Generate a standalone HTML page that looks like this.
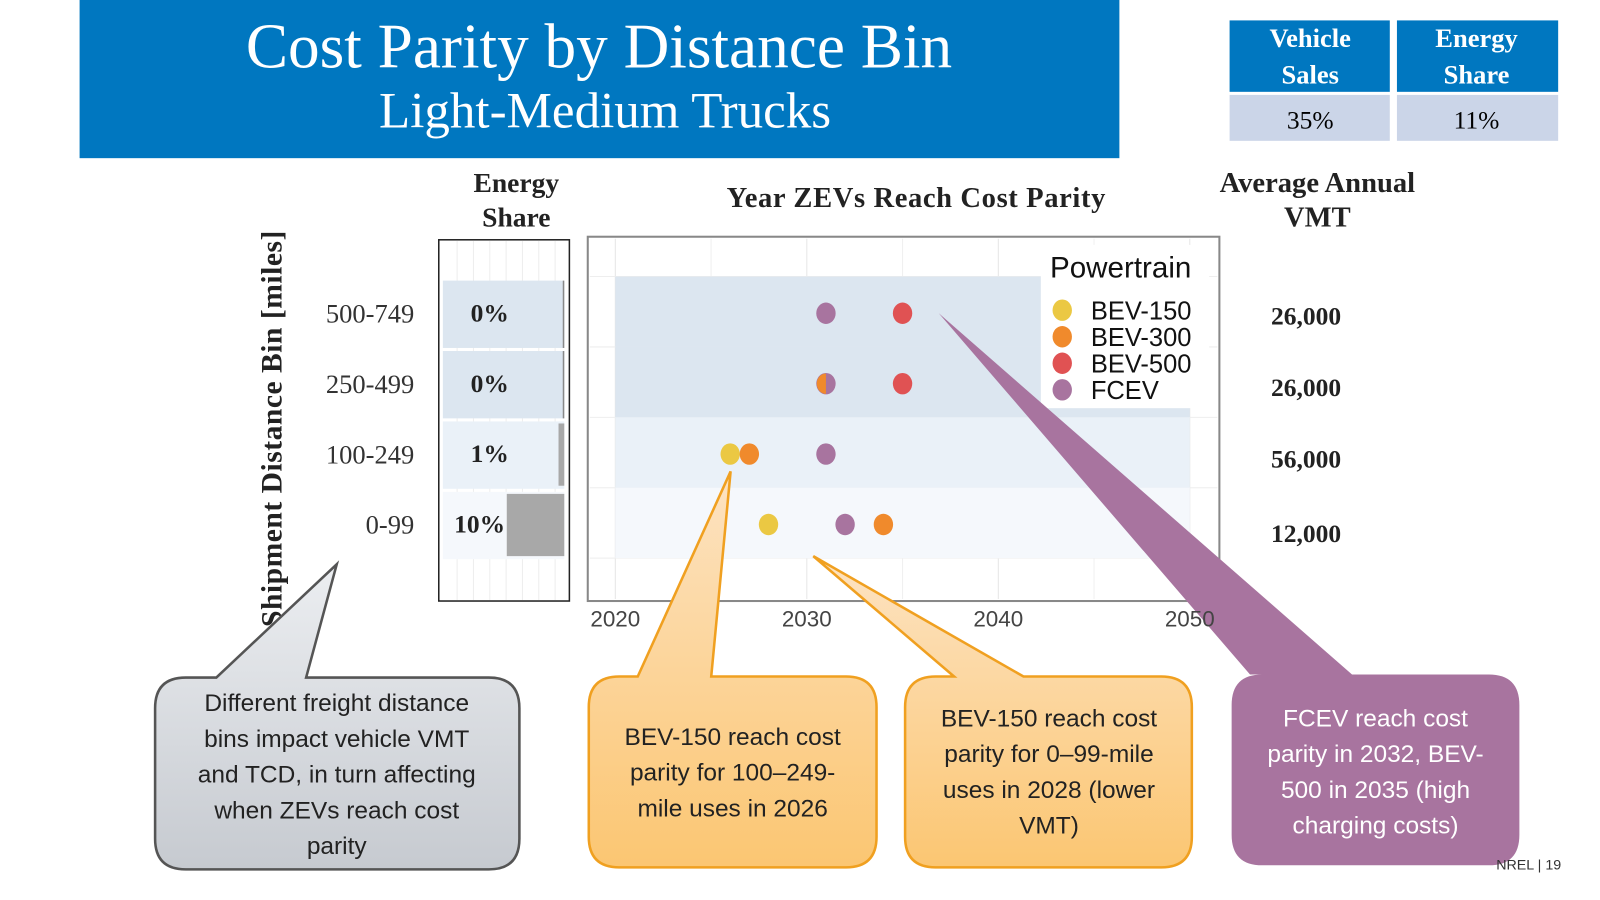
<!DOCTYPE html>
<html><head><meta charset="utf-8"><style>
html,body{margin:0;padding:0;background:#fff;overflow:hidden}
svg{display:block}
.serif{font-family:"Liberation Serif",serif}
.sans{font-family:"Liberation Sans",sans-serif}
</style></head><body>
<svg id="root" width="1600" height="900" viewBox="0 0 1568 882" xmlns="http://www.w3.org/2000/svg">
<defs>
<linearGradient id="gGray" x1="0" y1="0" x2="0" y2="1"><stop offset="0" stop-color="#eceef1"/><stop offset="1" stop-color="#c6cad0"/></linearGradient>
<linearGradient id="gOr" x1="0" y1="0" x2="0" y2="1"><stop offset="0" stop-color="#fde3c2"/><stop offset="1" stop-color="#fbc672"/></linearGradient>
</defs>
<g>
<rect x="78" y="0" width="1019" height="155" fill="#0077c0"/>
<text class="serif" x="587" y="66" font-size="62" fill="#fff" text-anchor="middle">Cost Parity by Distance Bin</text>
<text class="serif" x="593" y="125" font-size="50" fill="#fff" text-anchor="middle">Light-Medium Trucks</text>
</g>
<g>
<rect x="1205" y="20" width="157" height="70" fill="#0077c0"/>
<rect x="1369" y="20" width="158" height="70" fill="#0077c0"/>
<rect x="1205" y="93" width="157" height="45" fill="#cbd5e8"/>
<rect x="1369" y="93" width="158" height="45" fill="#cbd5e8"/>
<text class="serif" font-size="26" fill="#fff" text-anchor="middle" font-weight="bold"><tspan x="1284" y="46">Vehicle</tspan><tspan x="1284" y="82">Sales</tspan></text>
<text class="serif" font-size="26" fill="#fff" text-anchor="middle" font-weight="bold"><tspan x="1447" y="46">Energy</tspan><tspan x="1447" y="82">Share</tspan></text>
<text class="serif" x="1284" y="126" font-size="25" text-anchor="middle">35%</text>
<text class="serif" x="1447" y="126" font-size="25" text-anchor="middle">11%</text>
</g>
<text class="serif" font-size="27" font-weight="bold" fill="#222" text-anchor="middle"><tspan x="506" y="188">Energy</tspan><tspan x="506" y="222">Share</tspan></text>
<text class="serif" x="898" y="203" font-size="28" font-weight="bold" fill="#222" text-anchor="middle" letter-spacing="0.6">Year ZEVs Reach Cost Parity</text>
<text class="serif" font-size="28" font-weight="bold" fill="#222" text-anchor="middle"><tspan x="1291" y="188">Average Annual</tspan><tspan x="1291" y="222">VMT</tspan></text>
<text class="serif" font-size="29" font-weight="bold" fill="#222" text-anchor="middle" letter-spacing="0.5" transform="translate(276,420) rotate(-90)">Shipment Distance Bin [miles]</text>

<g id="rowlabels"></g>
<g id="share">
<rect x="430" y="235" width="128" height="354" fill="#fff" stroke="#222" stroke-width="1.5"/>
</g>
<g id="plot">
<rect x="576" y="232" width="619" height="357" fill="#fff" stroke="#888" stroke-width="2"/>
</g>
<g id="vmt"></g>

<g>
<path d="M182,664 L212,664 L330,553 L300,664 L479,664 Q509,664 509,694 L509,822 Q509,852 479,852 L182,852 Q152,852 152,822 L152,694 Q152,664 182,664 Z" fill="url(#gGray)" stroke="#555" stroke-width="2.5"/>
<text class="sans" font-size="24" fill="#222" text-anchor="middle"><tspan x="330" y="697">Different freight distance</tspan><tspan x="330" y="732">bins impact vehicle VMT</tspan><tspan x="330" y="767">and TCD, in turn affecting</tspan><tspan x="330" y="802">when ZEVs reach cost</tspan><tspan x="330" y="837">parity</tspan></text>
</g>
<g>
<path d="M607,663 L625,663 L716,462 L697,663 L829,663 Q859,663 859,693 L859,820 Q859,850 829,850 L607,850 Q577,850 577,820 L577,693 Q577,663 607,663 Z" fill="url(#gOr)" stroke="#f0a020" stroke-width="2.5"/>
<text class="sans" font-size="24" fill="#222" text-anchor="middle"><tspan x="718" y="730">BEV-150 reach cost</tspan><tspan x="718" y="765">parity for 100–249-</tspan><tspan x="718" y="800">mile uses in 2026</tspan></text>
</g>
<g>
<path d="M917,663 L935,663 L797,545 L1003,663 L1138,663 Q1168,663 1168,693 L1168,820 Q1168,850 1138,850 L917,850 Q887,850 887,820 L887,693 Q887,663 917,663 Z" fill="url(#gOr)" stroke="#f0a020" stroke-width="2.5"/>
<text class="sans" font-size="24" fill="#222" text-anchor="middle"><tspan x="1028" y="712">BEV-150 reach cost</tspan><tspan x="1028" y="747">parity for 0–99-mile</tspan><tspan x="1028" y="782">uses in 2028 (lower</tspan><tspan x="1028" y="817">VMT)</tspan></text>
</g>
<g>
<path d="M1237,661 L1225,661 L920,307 L1325,661 L1459,661 Q1489,661 1489,691 L1489,818 Q1489,848 1459,848 L1237,848 Q1207,848 1207,818 L1207,691 Q1207,661 1237,661 Z" fill="#a8749f"/>
<text class="sans" font-size="24" fill="#fff" text-anchor="middle"><tspan x="1348" y="712">FCEV reach cost</tspan><tspan x="1348" y="747">parity in 2032, BEV-</tspan><tspan x="1348" y="782">500 in 2035 (high</tspan><tspan x="1348" y="817">charging costs)</tspan></text>
</g>
<g id="ticks"></g>
<text class="sans" x="1530" y="852" font-size="14" fill="#333" text-anchor="end">NREL   |   19</text>
</svg>
<script>
const bins = ["500-749","250-499","100-249","0-99"];
const energyShare = [0, 0, 1, 10];
const vmtValues = ["26,000","26,000","56,000","12,000"];
const seriesNames = ["BEV-150","BEV-300","BEV-500","FCEV"];
const bev150 = [null, null, 2026, 2028];
const bev300 = [null, 2031, 2027, 2034];
const bev500 = [2035, 2035, null, null];
const fcev = [2031, 2031, 2031, 2032];
const xTicks = [2020, 2030, 2040, 2050];
const colors = ["#ebc843","#f08a2c","#e05253","#a8749f"];

const NS = "http://www.w3.org/2000/svg";
function mk(tag, attrs, parent){const e=document.createElementNS(NS,tag);for(const k in attrs)e.setAttribute(k,attrs[k]);parent.appendChild(e);return e;}
const xs = y => 603 + (y-2020)*(1166-603)/30;
const rowTop = i => 271 + i*69;
const yc = i => rowTop(i) + 36;
const bandFill = ["#dce6f0","#dce6f0","#eaf1f8","#f5f8fc"];
const plot = document.getElementById('plot');
const share = document.getElementById('share');
const rowl = document.getElementById('rowlabels');
const vmt = document.getElementById('vmt');
const ticks = document.getElementById('ticks');

for (let y=2015; y<=2050; y+=5){ if(xs(y)>578&&xs(y)<1193){mk('line',{x1:xs(y),x2:xs(y),y1:234,y2:587,stroke:y%10==0?'#e6e6e6':'#f0f0f0','stroke-width':1},plot);} }
for (let i=0;i<=4;i++){ mk('line',{x1:578,x2:1193,y1:rowTop(i),y2:rowTop(i),stroke:'#eee'},plot); }
for (let i=0;i<bins.length;i++){
  const b=mk('rect',{x:603,y:rowTop(i),width:563,height:69,fill:bandFill[i]},plot);
  
  
}
xTicks.forEach(t=>{
  const tx=mk('text',{x:xs(t),y:614,'font-size':22,fill:'#444','text-anchor':'middle','font-family':'Liberation Sans, sans-serif'},ticks);
  tx.textContent=t;
  
  
});
const series=[bev150,bev300,bev500,fcev];
[3,0,2,1].forEach(s=>{
  series[s].forEach((v,i)=>{
    if(v==null)return;
    let c;
    if(s==1 && fcev[i]===v){
      c=mk('path',{d:`M${xs(v)},${yc(i)-10} A9,10 0 0 0 ${xs(v)},${yc(i)+10} Z`,fill:colors[s]},plot);
    } else c=mk('ellipse',{cx:xs(v),cy:yc(i),rx:9.5,ry:10.5,fill:colors[s]},plot);
    
    
  });
});
const lg=mk('g',{},plot);


mk('rect',{x:1020,y:240,width:165,height:160,fill:'#fff'},lg);
const lt=mk('text',{x:1029,y:272,'font-size':29,fill:'#111','font-family':'Liberation Sans, sans-serif'},lg);lt.textContent='Powertrain';
seriesNames.forEach((n,k)=>{
  const e=mk('g',{},lg);
  
  
  mk('ellipse',{cx:1041,cy:304+k*26,rx:9.5,ry:10.5,fill:colors[k]},e);
  const t=mk('text',{x:1069,y:313+k*26,'font-size':25,fill:'#111','font-family':'Liberation Sans, sans-serif'},e);t.textContent=n;
});
for(let x=448;x<558;x+=16) mk('line',{x1:x,x2:x,y1:236,y2:588,stroke:'#eeeeee'},share);
const maxShare=11;
bins.forEach((b,i)=>{
  const r=mk('rect',{x:434,y:rowTop(i)+4,width:119,height:66,fill:bandFill[i]},share);
  
  
  const w=Math.max(1.5, energyShare[i]/maxShare*62);
  const bar=mk('rect',{x:553-w,y:rowTop(i)+(i<2?4:6),width:w,height:i<2?66:61,fill:energyShare[i]==0?'#888':'#a8a8a8'},share);
  
  
  const t=mk('text',{x:energyShare[i]>=10?470:480,y:yc(i)+8,'font-size':25,'font-weight':'bold',fill:'#222','text-anchor':'middle','font-family':'Liberation Serif, serif'},share);
  t.textContent=energyShare[i]+'%';
  
  
  const rl=mk('text',{x:406,y:yc(i)+9,'font-size':26,fill:'#333','text-anchor':'end','font-family':'Liberation Serif, serif'},rowl);
  rl.textContent=b;
  
  
  const vt=mk('text',{x:1280,y:[310,380,450,523][i]+8,'font-size':25,'font-weight':'bold',fill:'#222','text-anchor':'middle','font-family':'Liberation Serif, serif'},vmt);
  vt.textContent=vmtValues[i];
  
  
});
</script>
</body></html>
